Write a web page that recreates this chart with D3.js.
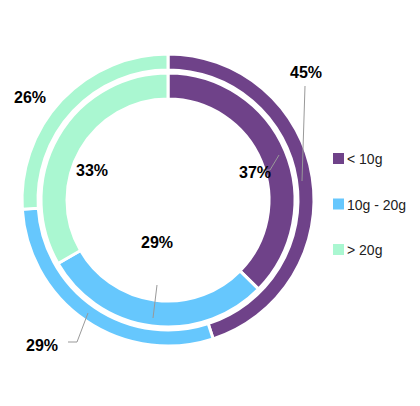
<!DOCTYPE html>
<html><head><meta charset="utf-8">
<script src="https://cdn.jsdelivr.net/npm/d3@7"></script>
<style>body{margin:0;background:#fff}</style>
</head><body><svg width="420" height="406"></svg>
<script>
const categories = ["< 10g", "10g - 20g", "> 20g"];
const outerValues = [45, 29, 26];
const innerValues = [37, 29, 33];
const colors = ["#6f4289", "#66c7fd", "#aaf7d1"];

const svg = d3.select("svg");
const cx = 168, cy = 200;
const g = svg.append("g").attr("transform", `translate(${cx},${cy})`);
const pie = d3.pie().sort(null).value(d => d);
const outerArc = d3.arc().innerRadius(130).outerRadius(146);
const innerArc = d3.arc().innerRadius(101).outerRadius(127);

g.selectAll(".o").data(pie(outerValues)).join("path")
  .attr("d", outerArc).attr("fill", (d,i) => colors[i]).attr("stroke", "#fff").attr("stroke-width", 3);
g.selectAll(".i").data(pie(innerValues)).join("path")
  .attr("d", innerArc).attr("fill", (d,i) => colors[i]).attr("stroke", "#fff").attr("stroke-width", 3);

// label layout: [x, y, leader line points or null] relative to svg
const outerLayout = [
  {x: 306, y: 78, line: [[305,86],[302,181]]},
  {x: 42, y: 351, line: [[68,342],[77,342],[88,313]]},
  {x: 30, y: 103, line: null}
];
const innerLayout = [
  {x: 255, y: 178, line: [[262,170],[270,170],[279,155]]},
  {x: 157, y: 248, line: [[157,285],[153,318]]},
  {x: 92, y: 176, line: null}
];
function labels(vals, layout) {
  vals.forEach((v, i) => {
    const l = layout[i];
    if (l.line) svg.append("path").attr("d", d3.line()(l.line))
      .attr("fill", "none").attr("stroke", "#999").attr("stroke-width", 1);
    svg.append("text").attr("x", l.x).attr("y", l.y).attr("text-anchor", "middle")
      .attr("font-family", "Liberation Sans, Arial, sans-serif").attr("font-weight", "bold")
      .attr("font-size", 16).attr("fill", "#000").text(v + "%");
  });
}
labels(outerValues, outerLayout);
labels(innerValues, innerLayout);

const ly = d3.scalePoint().domain(categories).range([159, 250]);
const leg = svg.selectAll(".leg").data(categories).join("g")
  .attr("transform", d => `translate(333,${ly(d)})`);
leg.append("rect").attr("x", 0).attr("y", -6).attr("width", 11).attr("height", 11)
  .attr("fill", (d,i) => colors[i]);
leg.append("text").attr("x", 14).attr("y", 5).attr("font-size", 14)
  .attr("font-family", "Liberation Sans, Arial, sans-serif").attr("fill", "#222").text(d => d);
</script></body></html>
